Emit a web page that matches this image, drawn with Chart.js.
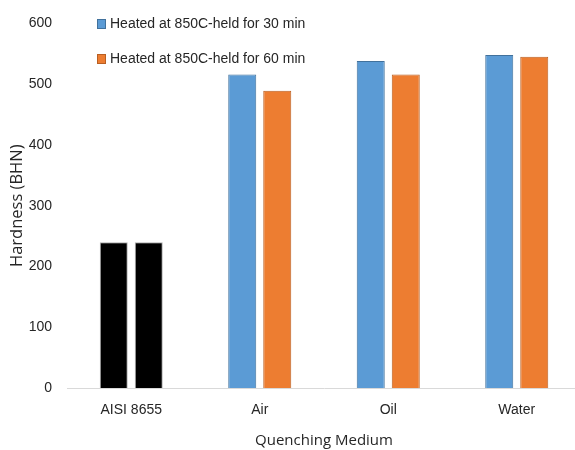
<!DOCTYPE html>
<html>
<head>
<meta charset="utf-8">
<script src="https://cdn.jsdelivr.net/npm/chart.js@4"></script>
<style>
  html, body { margin: 0; padding: 0; background: #fff; overflow: hidden; }
  #wrap { position: relative; width: 585px; height: 450px; }
</style>
</head>
<body>
<div id="wrap"><canvas id="c" width="585" height="450"></canvas></div>
<script>
// Hardness of AISI 8655 steel after heating at 850C and quenching
const categories = ['AISI 8655', 'Air', 'Oil', 'Water'];
const held30 = [240, 516, 538, 548];
const held60 = [240, 489, 516, 545];
const seriesLabels = ['Heated at 850C-held for 30 min', 'Heated at 850C-held for 60 min'];
const yTicks = [0, 100, 200, 300, 400, 500, 600];

const BLUE = '#5B9BD5', BLUE_EDGE = '#41719C';
const ORANGE = '#ED7D31', ORANGE_EDGE = '#B95F22';
const BASE = '#000000', BASE_EDGE = '#B0B0B0';
const FONT = "'Liberation Sans Narrow', 'Liberation Sans', sans-serif";
const TEXT = '#262626';

// untreated base steel is drawn in black, the treated media in series colours
const fillFor = (c) => categories.map((_, i) => i === 0 ? BASE : c);
const edgeFor = (c) => categories.map((_, i) => i === 0 ? BASE_EDGE : c);

// legend drawn inside the plot area, top-left
const insideLegend = {
  id: 'insideLegend',
  afterDraw(chart) {
    const ctx = chart.ctx;
    const items = [
      { text: seriesLabels[0], fill: BLUE, edge: BLUE_EDGE },
      { text: seriesLabels[1], fill: ORANGE, edge: ORANGE_EDGE }
    ];
    ctx.save();
    ctx.font = "14px " + FONT;
    ctx.textBaseline = 'middle';
    ctx.fillStyle = TEXT;
    items.forEach((it, k) => {
      const cy = 24 + k * 35;
      ctx.fillStyle = it.fill;
      ctx.fillRect(97, cy - 5, 9, 10);
      ctx.strokeStyle = it.edge;
      ctx.lineWidth = 1;
      ctx.strokeRect(97.5, cy - 4.5, 8, 9);
      ctx.fillStyle = TEXT;
      ctx.fillText(it.text, 110, cy);
    });
    ctx.restore();
  }
};

new Chart(document.getElementById('c'), {
  type: 'bar',
  data: {
    labels: categories,
    datasets: [
      { label: seriesLabels[0], data: held30, backgroundColor: fillFor(BLUE), borderColor: edgeFor(BLUE_EDGE), borderWidth: 1 },
      { label: seriesLabels[1], data: held60, backgroundColor: fillFor(ORANGE), borderColor: edgeFor(ORANGE_EDGE), borderWidth: 1 }
    ]
  },
  options: {
    responsive: false,
    animation: false,
    events: [],
    layout: { padding: { top: 20, right: 4, left: 0, bottom: 0 } },
    datasets: { bar: { categoryPercentage: 0.545, barPercentage: 0.8 } },
    plugins: { legend: { display: false }, tooltip: { enabled: false } },
    scales: {
      x: {
        grid: { display: false, drawTicks: false },
        border: { display: true, color: '#D9D9D9', width: 1 },
        ticks: { color: TEXT, font: { family: FONT, size: 14 }, padding: 14 },
        title: { display: true, text: 'Quenching Medium', color: TEXT, font: { family: "'Open Sans', sans-serif", size: 15 }, padding: { top: 6, bottom: 0 } },
        afterFit(s) { s.height = 62; }
      },
      y: {
        min: 0, max: 600,
        grid: { display: false, drawTicks: false },
        border: { display: false },
        afterBuildTicks(s) { s.ticks = yTicks.map(v => ({ value: v })); },
        ticks: { color: TEXT, font: { family: FONT, size: 14 }, padding: 15 },
        title: { display: true, text: 'Hardness (BHN)', color: TEXT, font: { family: "'Open Sans', sans-serif", size: 16.5 }, padding: { top: 7, bottom: 0 } },
        afterFit(s) { s.width = 67; }
      }
    }
  },
  plugins: [insideLegend]
});
</script>
</body>
</html>
